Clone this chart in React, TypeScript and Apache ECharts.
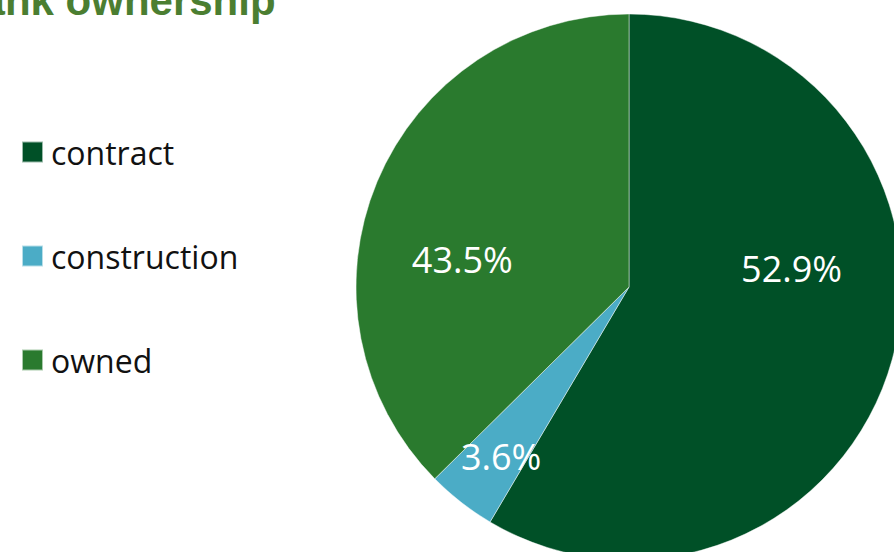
import React, { useEffect, useRef } from "react";
import * as echarts from "echarts";

// Categories and slice values
const categories = ["contract", "construction", "owned"];
const sliceValues = [58.5, 4.1, 37.4];
// Percent labels as printed on the slices
const pctLabels = ["52.9%", "3.6%", "43.5%"];
const colors = ["#005027", "#4BACC6", "#2A7A2E"];
const titleText = "Tank ownership";

// label placement nudges (layout only)
const labelOffsets: [number, number][] = [
  [28, -55],
  [-42, 60],
  [-38, 26],
];

export default function App() {
  const ref = useRef<HTMLDivElement>(null);
  useEffect(() => {
    document.body.style.margin = "0";
    if (!ref.current) return;
    const chart = echarts.init(ref.current, null, { renderer: "svg" });
    chart.setOption({
      animation: false,
      backgroundColor: "#ffffff",
      color: colors,
      graphic: [
        {
          type: "text",
          x: -41,
          y: 0.5,
          style: {
            text: titleText,
            font: 'bold 42px "Liberation Sans", Arial, sans-serif',
            fill: "#4B7E31",
            verticalAlign: "middle",
            align: "left",
          },
        },
      ],
      legend: {
        data: categories,
        orient: "vertical",
        left: 21,
        top: 136,
        padding: 0,
        itemWidth: 21,
        itemHeight: 21,
        itemGap: 72,
        icon: "rect",
        selectedMode: false,
        textStyle: {
          fontFamily: "Open Sans",
          fontSize: 32,
          color: "#111111",
          lineHeight: 21,
          padding: [0, 0, 0, 3],
        },
      },
      series: [
        {
          type: "pie",
          center: [629, 287],
          radius: 273,
          startAngle: 90,
          clockwise: true,
          avoidLabelOverlap: false,
          silent: true,
          itemStyle: { borderColor: "rgba(255,255,255,0.6)", borderWidth: 0.75 },
          label: {
            show: true,
            position: "inside",
            color: "#ffffff",
            fontFamily: "Open Sans",
            fontSize: 36,
            formatter: (p: any) => pctLabels[p.dataIndex],
          },
          labelLine: { show: false },
          emphasis: { disabled: true },
          data: categories.map((name, i) => ({
            name,
            value: sliceValues[i],
            label: { offset: labelOffsets[i] },
          })),
        },
      ],
    });
    return () => chart.dispose();
  }, []);
  return <div ref={ref} style={{ width: 894, height: 552 }} />;
}
